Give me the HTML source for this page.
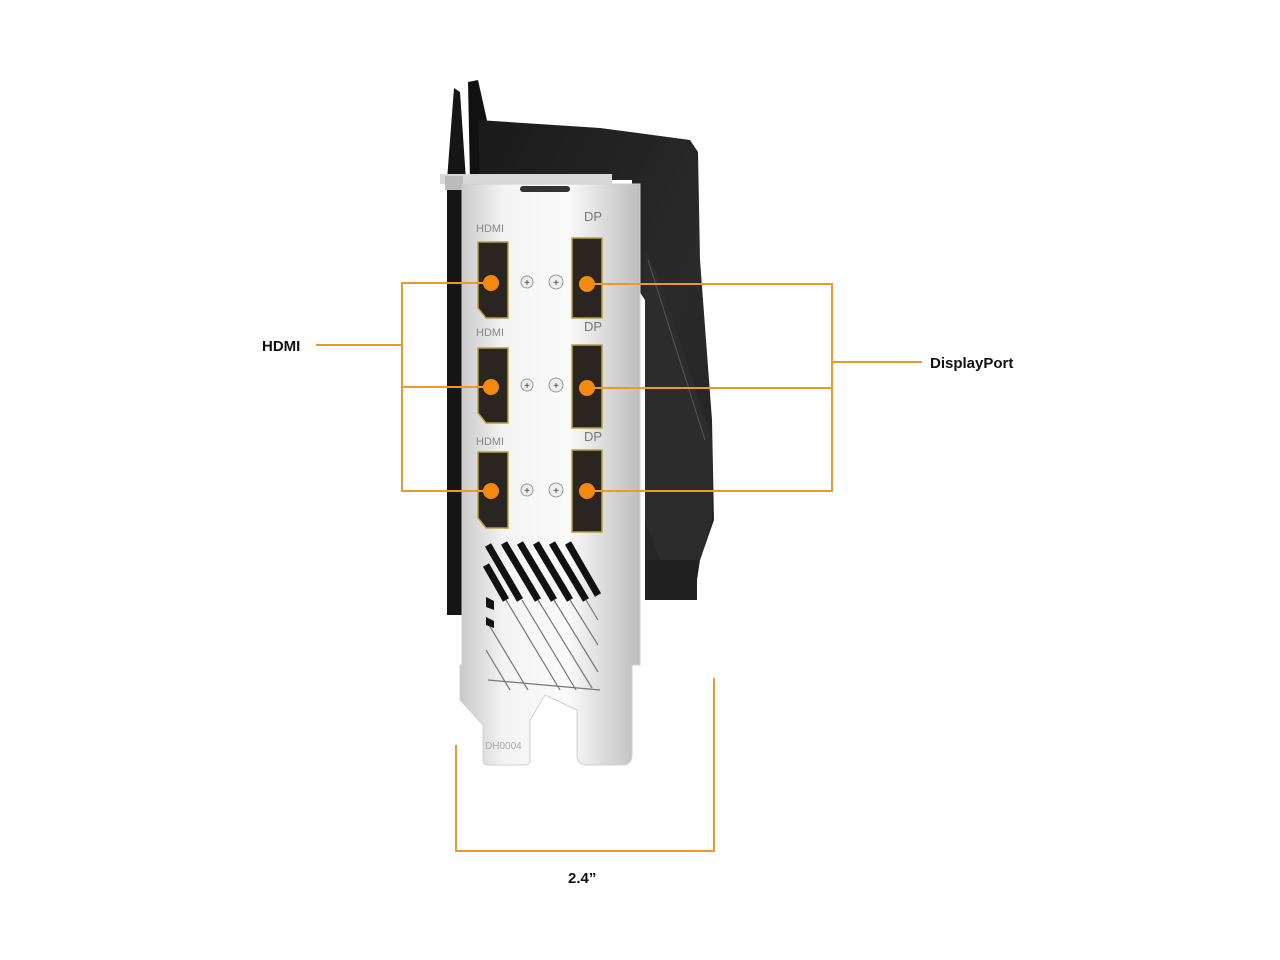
<!DOCTYPE html>
<html><head><meta charset="utf-8"><style>
html,body{margin:0;padding:0;background:#fff;width:1280px;height:960px;overflow:hidden}
svg{display:block}
text{font-family:"Liberation Sans",sans-serif}
</style></head><body>
<svg width="1280" height="960" viewBox="0 0 1280 960" xmlns="http://www.w3.org/2000/svg">
<defs>
<linearGradient id="br" x1="0" x2="1" y1="0" y2="0">
<stop offset="0" stop-color="#c9c9c9"/><stop offset="0.25" stop-color="#f4f4f4"/><stop offset="0.6" stop-color="#fafafa"/><stop offset="1" stop-color="#bdbdbd"/>
</linearGradient>
<linearGradient id="sh" x1="0" x2="1" y1="0" y2="1">
<stop offset="0" stop-color="#1a1a1a"/><stop offset="0.6" stop-color="#2a2a2a"/><stop offset="1" stop-color="#222"/>
</linearGradient>
</defs>
<polygon points="454,88 460,92 466,180 470,615 447,615 447,180" fill="#151515"/>
<polygon points="468,82 478,80 488,125 490,180 470,180" fill="#111"/>
<polygon points="478,120 600,128 690,140 698,152 700,260 712,420 714,520 700,560 694,600 645,600 645,300 632,280 632,180 480,180" fill="url(#sh)"/>
<polygon points="645,250 660,280 712,440 712,520 700,560 660,560 645,520" fill="#2c2c2c"/>
<line x1="648" y1="260" x2="705" y2="440" stroke="#555" stroke-width="1"/>
<rect x="645" y="560" width="52" height="40" fill="#202020"/>
<rect x="440" y="174" width="172" height="10" fill="#d8d8d8"/>
<rect x="445" y="176" width="18" height="14" fill="#bbb"/>
<path d="M462,184 L640,184 L640,665 L632,665 L632,755 Q632,765 622,765 L587,765 Q577,765 577,755 L577,710 L545,695 L530,720 L530,760 Q530,765 525,765 L488,765 Q483,765 483,760 L483,725 L460,700 L460,665 L462,665 Z" fill="url(#br)" stroke="#cfcfcf"/>
<rect x="520" y="186" width="50" height="6" rx="3" fill="#333"/>
<g fill="#888" font-size="11" font-family="Liberation Serif,serif">
<text x="476" y="232">HDMI</text><text x="476" y="336">HDMI</text><text x="476" y="445">HDMI</text>
</g>
<g fill="#777" font-size="13">
<text x="584" y="221">DP</text><text x="584" y="331">DP</text><text x="584" y="441">DP</text>
</g>
<g fill="#2a2520" stroke="#b8a040" stroke-width="1.5">
<path d="M478,242 L508,242 L508,318 L486,318 L478,308 Z"/>
<path d="M478,348 L508,348 L508,423 L486,423 L478,413 Z"/>
<path d="M478,452 L508,452 L508,528 L486,528 L478,518 Z"/>
<path d="M572,238 L602,238 L602,318 L572,318 Z"/>
<path d="M572,345 L602,345 L602,428 L572,428 Z"/>
<path d="M572,450 L602,450 L602,532 L572,532 Z"/>
</g>
<g fill="#eee" stroke="#999">
<circle cx="527" cy="282" r="6"/><circle cx="556" cy="282" r="7"/>
<circle cx="527" cy="385" r="6"/><circle cx="556" cy="385" r="7"/>
<circle cx="527" cy="490" r="6"/><circle cx="556" cy="490" r="7"/>
</g>
<g fill="#333" font-size="10" text-anchor="middle">
<text x="527" y="286">+</text><text x="556" y="286">+</text>
<text x="527" y="389">+</text><text x="556" y="389">+</text>
<text x="527" y="494">+</text><text x="556" y="494">+</text>
</g>
<g stroke="#111" stroke-width="7">
<line x1="488" y1="545" x2="520" y2="600"/><line x1="504" y1="543" x2="538" y2="600"/>
<line x1="520" y1="543" x2="554" y2="600"/><line x1="536" y1="543" x2="570" y2="600"/>
<line x1="552" y1="543" x2="586" y2="600"/><line x1="568" y1="543" x2="598" y2="595"/>
<line x1="486" y1="565" x2="506" y2="600"/>
</g>
<g stroke="#777" stroke-width="1.2">
<line x1="506" y1="600" x2="560" y2="690"/><line x1="522" y1="600" x2="576" y2="690"/>
<line x1="538" y1="600" x2="592" y2="688"/><line x1="554" y1="600" x2="598" y2="672"/>
<line x1="570" y1="600" x2="598" y2="645"/><line x1="586" y1="600" x2="598" y2="620"/>
<line x1="486" y1="620" x2="528" y2="690"/><line x1="486" y1="650" x2="510" y2="690"/>
<line x1="488" y1="680" x2="600" y2="690"/>
</g>
<g fill="#111"><polygon points="486,597 494,601 494,610 486,607"/><polygon points="486,617 494,621 494,628 486,625"/></g>
<text x="485" y="749" font-size="10" fill="#aaa">DH0004</text>
<g stroke="#f0962a" stroke-width="2" fill="none">
<polyline points="491,283 402,283 402,491 491,491"/>
<line x1="402" y1="387" x2="491" y2="387"/>
<line x1="316" y1="345" x2="402" y2="345"/>
<polyline points="587,284 832,284 832,491 587,491"/>
<line x1="587" y1="388" x2="832" y2="388"/>
<line x1="832" y1="362" x2="922" y2="362"/>
<polyline points="456,745 456,851 714,851 714,678"/>
</g>
<g fill="#f28a12">
<circle cx="491" cy="283" r="8"/><circle cx="491" cy="387" r="8"/><circle cx="491" cy="491" r="8"/>
<circle cx="587" cy="284" r="8"/><circle cx="587" cy="388" r="8"/><circle cx="587" cy="491" r="8"/>
</g>
<g font-size="15" font-weight="bold" fill="#111">
<text x="262" y="351">HDMI</text>
<text x="930" y="368">DisplayPort</text>
<text x="568" y="883">2.4”</text>
</g>
</svg>
</body></html>
